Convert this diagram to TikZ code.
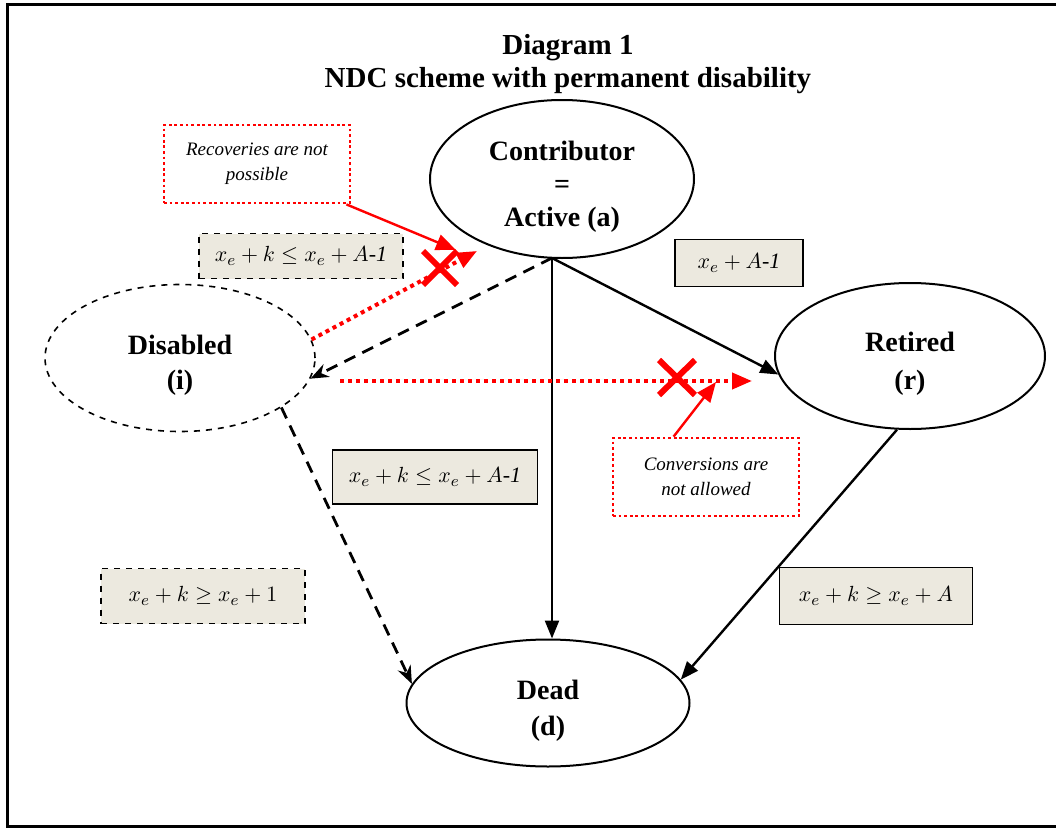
\documentclass[tikz,border=0pt]{standalone}
\usepackage{fontspec}
\setmainfont{Liberation Serif}
\usetikzlibrary{shapes.geometric, arrows, arrows.meta, calc, positioning}
\definecolor{beige}{RGB}{236,233,223}
\newcommand{\lift}{\rule{0pt}{17pt}}
\tikzstyle{state} = [ellipse, line width=1pt, draw=black, inner sep=0pt, align=center, font=\fontsize{14}{16.5}\selectfont\bfseries]
\tikzstyle{cond} = [rectangle, line width=0.7pt, draw=black, fill=beige, inner sep=0pt, font=\fontsize{11}{13}\selectfont]
\tikzstyle{note} = [rectangle, line width=1.4pt, draw=red, dash pattern=on 1.4pt off 1.4pt, minimum width=93pt, minimum height=39pt, align=center, font=\fontsize{9.5}{12.5}\selectfont\itshape]
\tikzstyle{arrow} = [line width=1.2pt, -{Triangle[length=9pt,width=7pt]}]
\tikzstyle{dasharrow} = [line width=1.4pt, dash pattern=on 6pt off 4pt, -{Stealth[length=9pt,width=7pt]}]
\tikzstyle{blocked} = [red, line width=2pt, dash pattern=on 2pt off 2pt, -{Triangle[length=10pt,width=8pt]}]
\tikzstyle{pointer} = [red, line width=1.2pt, -{Triangle[length=10pt,width=8pt]}]
\tikzstyle{cross} = [red, line width=3pt]
\begin{document}
\begin{tikzpicture}[x=0.5pt, y=-0.5pt]
	\useasboundingbox (0,0) rectangle (1056,830);
	\draw [line width=1.5pt] (7,4) rectangle (1064,826);
	\node (Title) [font=\fontsize{14.5}{16.5}\selectfont\bfseries, align=center] at (568,64) {Diagram 1\\NDC scheme with permanent disability};
	% states
	\node (Contributor) [state, minimum width=132pt, minimum height=79pt] at (562,179) {\lift Contributor\\=\\Active (a)};
	\node (Disabled) [state, dashed, line width=0.8pt, minimum width=135pt, minimum height=73.5pt, font=\fontsize{14}{17.5}\selectfont\bfseries] at (180,358) {\lift Disabled\\(i)};
	\node (Retired) [state, minimum width=135pt, minimum height=73pt, font=\fontsize{14}{19}\selectfont\bfseries] at (910,356) {\lift Retired\\(r)};
	\node (Dead) [state, minimum width=141.5pt, minimum height=63.5pt, font=\fontsize{14}{18}\selectfont\bfseries] at (548,703) {\lift Dead\\(d)};
	% conditions
	\node (CondA) [cond, dashed, minimum width=102pt, minimum height=22.5pt] at (301,256) {$x_e + k \leq x_e + A$\textit{-1}};
	\node (CondR) [cond, minimum width=64pt, minimum height=23.5pt] at (739,263) {$x_e + A$\textit{-1}};
	\node (CondI) [cond, minimum width=102.5pt, minimum height=27pt] at (435,477) {$x_e + k \leq x_e + A$\textit{-1}};
	\node (CondID) [cond, dashed, minimum width=102pt, minimum height=27.5pt] at (203,596) {$x_e + k \geq x_e + 1$};
	\node (CondRD) [cond, minimum width=96.5pt, minimum height=28.5pt] at (876,596) {$x_e + k \geq x_e + A$};
	% notes
	\node (Recoveries) [note] at (257,164) {Recoveries are not\\possible};
	\node (Conversions) [note] at (706,477) {Conversions are\\not allowed};
	% transitions
	\coordinate (Hub) at (552,258);
	\draw [arrow] (Hub) -- (Hub |- Dead.north);
	\draw [arrow] (Hub) -- (Retired.188);
	\draw [dasharrow] (Hub) -- (Disabled.-9);
	\draw [dasharrow] (Disabled.-26) -- (Dead.172);
	\draw [arrow] (Retired.260) -- (Dead.10);
	% forbidden moves
	\coordinate (RecEnd) at (477,251);
	\coordinate (ConvStart) at (340,381);
	\coordinate (ConvEnd) at (752,381);
	\draw [blocked] (Disabled.8) -- (RecEnd);
	\draw [blocked] (ConvStart) -- (ConvEnd);
	\draw [cross] (423,251) -- (457,285) (423,285) -- (457,251);
	\draw [cross] (659,360) -- (695,395) (659,395) -- (695,360);
	\draw [pointer] (Recoveries.south east) ++(-5,0) -- (456,250);
	\draw [pointer] ($(Conversions.north west)+(62,0)$) -- (716,382);
\end{tikzpicture}
\end{document}
